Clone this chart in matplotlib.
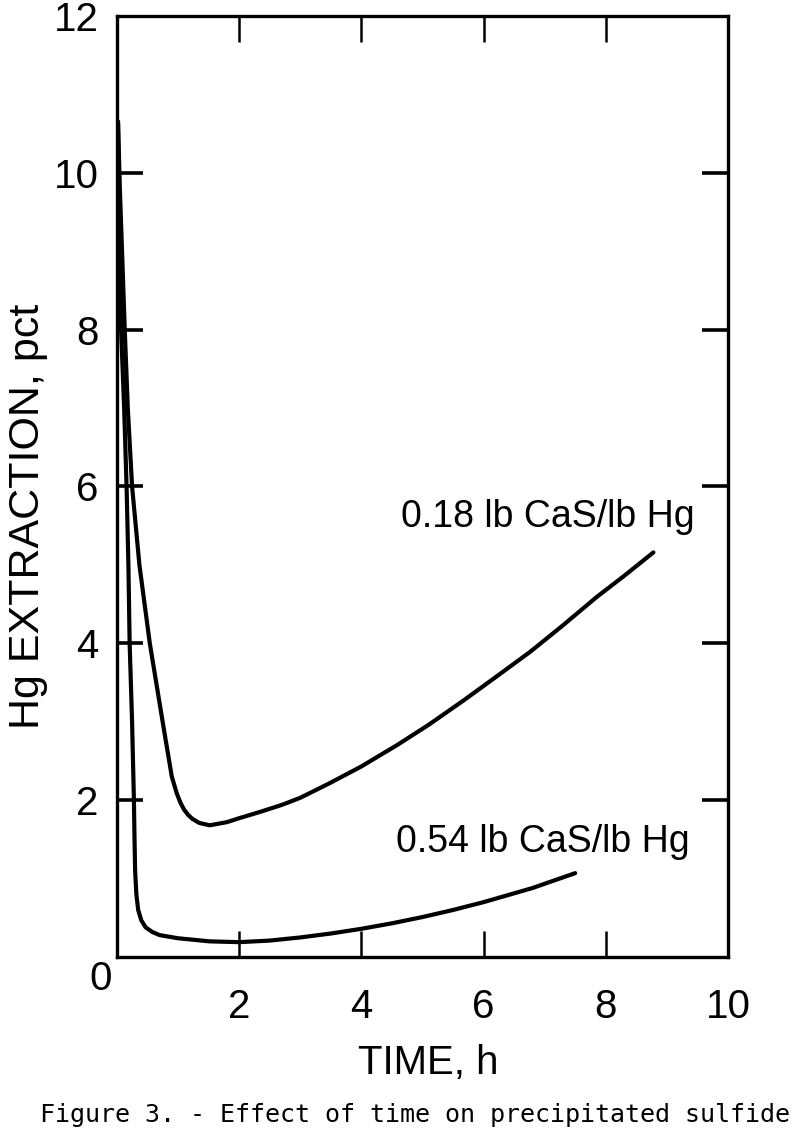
import matplotlib
matplotlib.use("Agg")
import matplotlib.pyplot as plt
from matplotlib.ticker import FixedLocator

# values
time_018 = [0.02, 0.05, 0.09, 0.13, 0.18, 0.25, 0.37, 0.54, 0.75, 0.9, 0.98, 1.04, 1.1, 1.17, 1.24,
            1.35, 1.52, 1.8, 2.0, 2.34, 2.7, 3.0, 3.49, 4.0, 4.58, 5.1, 5.67, 6.2, 6.76, 7.3,
            7.85, 8.3, 8.78]
hg_018 = [10.65, 9.8, 8.9, 8.0, 7.0, 6.0, 5.0, 4.0, 3.0, 2.3, 2.09, 1.97, 1.88, 1.81, 1.76,
          1.71, 1.68, 1.72, 1.77, 1.85, 1.94, 2.03, 2.22, 2.43, 2.7, 2.96, 3.27, 3.57, 3.89, 4.23,
          4.59, 4.86, 5.16]

time_054 = [0.02, 0.04, 0.07, 0.12, 0.16, 0.19, 0.21, 0.25, 0.28, 0.29, 0.3, 0.32, 0.35, 0.4,
            0.47, 0.58, 0.7, 1.0, 1.52, 2.0, 2.5, 3.0, 3.5, 4.0, 4.5, 5.0, 5.5, 6.0, 6.8, 7.5]
hg_054 = [10.65, 9.3, 8.0, 7.0, 6.0, 5.0, 4.0, 3.0, 2.0, 1.5, 1.1, 0.8, 0.6, 0.47,
          0.38, 0.32, 0.28, 0.24, 0.2, 0.19, 0.21, 0.25, 0.3, 0.36, 0.43, 0.51, 0.6, 0.7, 0.88, 1.07]

label_018 = "0.18 lb CaS/lb Hg"
label_054 = "0.54 lb CaS/lb Hg"
x_ticks = [2, 4, 6, 8, 10]
y_ticks = [2, 4, 6, 8, 10, 12]
mark_x = [2, 4, 6, 8]
mark_y = [2, 4, 6, 8, 10]

plt.rcParams["font.family"] = ["Liberation Sans", "DejaVu Sans"]

fig = plt.figure(figsize=(8, 11.38), dpi=100)
ax = fig.add_axes([0.146, 0.159, 0.764, 0.827])

ax.plot(time_018, hg_018, color="black", lw=3.0, solid_capstyle="round", solid_joinstyle="round")
ax.plot(time_054, hg_054, color="black", lw=3.0, solid_capstyle="round", solid_joinstyle="round")

ax.set_xlim(0, 10)
ax.set_ylim(0, 12)

for s in ax.spines.values():
    s.set_linewidth(2.4)

# labels on major ticks (no marks), marks on minor ticks
ax.xaxis.remove_overlapping_locs = False
ax.yaxis.remove_overlapping_locs = False
ax.set_xticks(x_ticks)
ax.set_yticks(y_ticks)
ax.tick_params(which="major", length=0, labelsize=29, width=0)
ax.tick_params(axis="x", which="major", pad=22)
ax.tick_params(axis="y", which="major", pad=13)
ax.xaxis.set_minor_locator(FixedLocator(mark_x))
ax.yaxis.set_minor_locator(FixedLocator(mark_y))
ax.tick_params(which="minor", direction="in", length=19, width=1.8,
               top=True, bottom=True, left=True, right=True)
ax.tick_params(axis="y", which="minor", width=2.6)

fig.text(101 / 800, 1 - 979 / 1138, "0", fontsize=29, ha="center", va="center")

ax.text(9.46, 5.61, label_018, fontsize=27, ha="right", va="center")
ax.text(9.38, 1.47, label_054, fontsize=27, ha="right", va="center")

fig.text(428 / 800, 1 - 1063 / 1138, "TIME, h", fontsize=29, ha="center", va="center")
fig.text(28 / 800, 1 - 516 / 1138, "Hg EXTRACTION, pct", fontsize=31, rotation=90,
         ha="center", va="center")
fig.text(415 / 800, 1 - 1115 / 1138, "Figure 3. - Effect of time on precipitated sulfide",
         fontsize=18, ha="center", va="center", family="DejaVu Sans Mono")

fig.savefig("out.png", dpi=100)
